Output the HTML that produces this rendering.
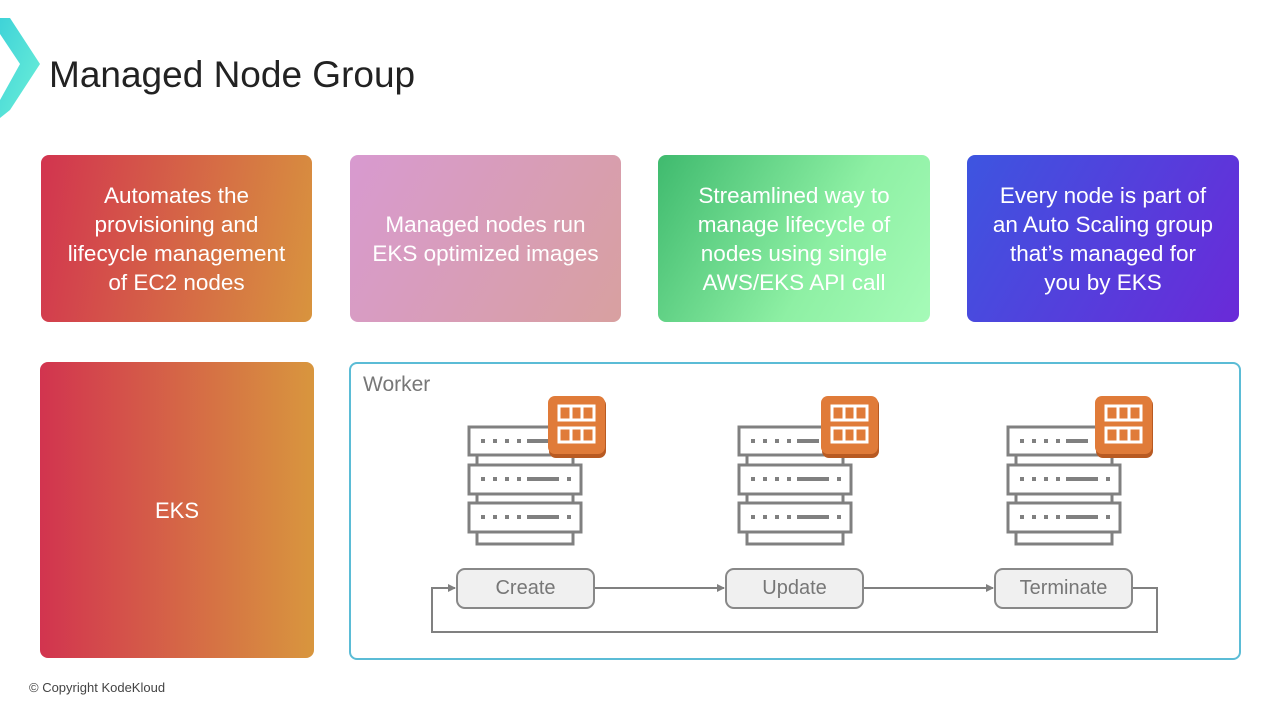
<!DOCTYPE html>
<html><head><meta charset="utf-8"><style>
body{margin:0;width:1280px;height:720px;background:#fff;position:relative;overflow:hidden;font-family:"Liberation Sans",sans-serif;}
.card{position:absolute;border-radius:8px;color:#fff;display:flex;align-items:center;justify-content:center;text-align:center;font-size:22.5px;line-height:29px;}
.t{position:absolute;}
.btn{position:absolute;width:139px;height:41px;border:2px solid #888;border-radius:9px;background:#f0f0f0;color:#777;font-size:20px;display:flex;align-items:center;justify-content:center;box-sizing:border-box;}
</style></head><body>
<svg class="t" style="left:0;top:0" width="60" height="130"><defs><linearGradient id="cy" x1="0" y1="0" x2="1" y2="1"><stop offset="0" stop-color="#3fd3d8"/><stop offset="1" stop-color="#6df0d8"/></linearGradient></defs><polygon points="0,18 10,18 40,64 10,110 0,118 0,100 20,64 0,34" fill="url(#cy)"/></svg>
<div class="t" style="left:49px;top:54px;font-size:37px;color:#222;">Managed Node Group</div>

<div class="card" style="left:41px;top:155px;width:271px;height:167px;background:linear-gradient(100deg,#d2344f,#d8943e);">Automates the<br>provisioning and<br>lifecycle management<br>of EC2 nodes</div>
<div class="card" style="left:350px;top:155px;width:271px;height:167px;background:linear-gradient(120deg,#d89ad0,#d8a0a0);">Managed nodes run<br>EKS optimized images</div>
<div class="card" style="left:658px;top:155px;width:272px;height:167px;background:linear-gradient(120deg,#3fba6e,#8ef0a4 60%,#a6fbb8);">Streamlined way to<br>manage lifecycle of<br>nodes using single<br>AWS/EKS API call</div>
<div class="card" style="left:967px;top:155px;width:272px;height:167px;background:linear-gradient(120deg,#3d55e0,#6a2ad8);">Every node is part of<br>an Auto Scaling group<br>that’s managed for<br>you by EKS</div>

<div class="card" style="left:40px;top:362px;width:274px;height:296px;background:linear-gradient(90deg,#d2344f,#d8963e);font-size:22px;">EKS</div>
<div class="t" style="left:349px;top:362px;width:888px;height:294px;border:2px solid #5bbcd6;border-radius:8px;"></div>
<div class="t" style="left:363px;top:373px;font-size:21px;color:#777;">Worker</div>

<svg class="t" style="left:0;top:0" width="1280" height="720">
<defs>
<g id="srv" fill="none" stroke="#808080" stroke-width="3">
<rect x="0" y="0" width="112" height="28" fill="#fff"/>
<rect x="0" y="38" width="112" height="29" fill="#fff"/>
<rect x="0" y="76" width="112" height="29" fill="#fff"/>
<line x1="8" y1="28" x2="8" y2="38"/><line x1="104" y1="28" x2="104" y2="38"/>
<line x1="8" y1="67" x2="8" y2="76"/><line x1="104" y1="67" x2="104" y2="76"/>
<rect x="8" y="105" width="96" height="12"/>
<g stroke-width="4">
<path d="M12,14h4M24,14h4M36,14h4M48,14h4M58,14h22"/>
<path d="M12,52h4M24,52h4M36,52h4M48,52h4M58,52h32M98,52h4"/>
<path d="M12,90h4M24,90h4M36,90h4M48,90h4M58,90h32M98,90h4"/>
</g>
</g>
<g id="bdg">
<rect x="1" y="2" width="57" height="60" rx="7" fill="#b85a22"/>
<rect x="0" y="0" width="57" height="58" rx="7" fill="#e07b39"/>
<g fill="none" stroke="#fff" stroke-width="3"><rect x="11" y="10" width="35" height="14"/><rect x="11" y="32" width="35" height="14"/><path d="M23,10v14M34,10v14M23,32v14M34,32v14"/></g>
</g>
<marker id="ar" markerWidth="8" markerHeight="8" refX="7" refY="4" orient="auto" markerUnits="userSpaceOnUse"><path d="M0,0L8,4L0,8z" fill="#808080"/></marker>
</defs>
<use href="#srv" x="469" y="427"/><use href="#bdg" x="548" y="396"/>
<use href="#srv" x="739" y="427"/><use href="#bdg" x="821" y="396"/>
<use href="#srv" x="1008" y="427"/><use href="#bdg" x="1095" y="396"/>
<g stroke="#808080" stroke-width="2" fill="none">
<line x1="595" y1="588" x2="724" y2="588" marker-end="url(#ar)"/>
<line x1="864" y1="588" x2="993" y2="588" marker-end="url(#ar)"/>
<polyline points="1133,588 1157,588 1157,632 432,632 432,588 455,588" marker-end="url(#ar)"/>
</g>
</svg>
<div class="btn" style="left:456px;top:568px;">Create</div>
<div class="btn" style="left:725px;top:568px;">Update</div>
<div class="btn" style="left:994px;top:568px;">Terminate</div>
<div class="t" style="left:29px;top:680px;font-size:13px;color:#444;">© Copyright KodeKloud</div>
</body></html>
